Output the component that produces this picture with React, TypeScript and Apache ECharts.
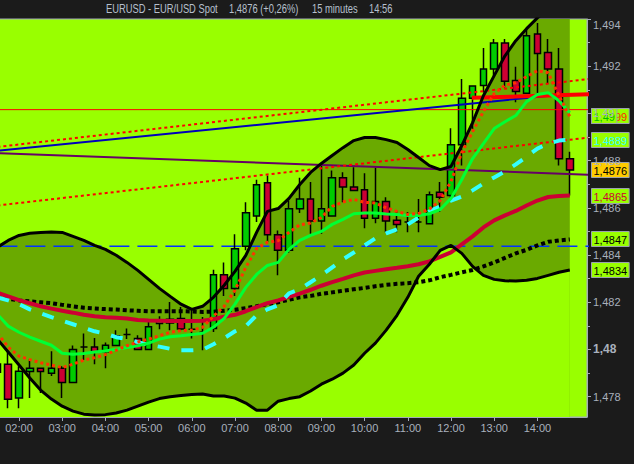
import React, { useEffect, useRef } from 'react';
import * as echarts from 'echarts';

// 15-minute slots (01:30 .. 14:45)
const times: string[] = [
  '01:30','01:45','02:00','02:15','02:30','02:45','03:00','03:15','03:30','03:45',
  '04:00','04:15','04:30','04:45','05:00','05:15','05:30','05:45','06:00','06:15',
  '06:30','06:45','07:00','07:15','07:30','07:45','08:00','08:15','08:30','08:45',
  '09:00','09:15','09:30','09:45','10:00','10:15','10:30','10:45','11:00','11:15',
  '11:30','11:45','12:00','12:15','12:30','12:45','13:00','13:15','13:30','13:45',
  '14:00','14:15','14:30','14:45'
];

// [open, close, low, high]
const candles: number[][] = [
  [1.47904, 1.47938, 1.47870, 1.47975],
  [1.47937, 1.47789, 1.47751, 1.47990],
  [1.47795, 1.47908, 1.47751, 1.47929],
  [1.47907, 1.47920, 1.47795, 1.47958],
  [1.47920, 1.47907, 1.47816, 1.47920],
  [1.47899, 1.47920, 1.47888, 1.47993],
  [1.47920, 1.47860, 1.47795, 1.47929],
  [1.47860, 1.48000, 1.47860, 1.48017],
  [1.48011, 1.48011, 1.47955, 1.48068],
  [1.48011, 1.47990, 1.47937, 1.48049],
  [1.47990, 1.48018, 1.47920, 1.48030],
  [1.48017, 1.48058, 1.48017, 1.48082],
  [1.48063, 1.48063, 1.48044, 1.48089],
  [1.48047, 1.48000, 1.48000, 1.48060],
  [1.48000, 1.48096, 1.48000, 1.48117],
  [1.48110, 1.48124, 1.48086, 1.48141],
  [1.48112, 1.48128, 1.48082, 1.48201],
  [1.48131, 1.48087, 1.48082, 1.48180],
  [1.48086, 1.48086, 1.48047, 1.48173],
  [1.48073, 1.48073, 1.47997, 1.48138],
  [1.48089, 1.48317, 1.48074, 1.48338],
  [1.48317, 1.48258, 1.48227, 1.48368],
  [1.48258, 1.48427, 1.48227, 1.48488],
  [1.48437, 1.48579, 1.48420, 1.48624],
  [1.48565, 1.48698, 1.48540, 1.48719],
  [1.48706, 1.48486, 1.48455, 1.48737],
  [1.48486, 1.48420, 1.48314, 1.48504],
  [1.48420, 1.48596, 1.48410, 1.48631],
  [1.48596, 1.48638, 1.48578, 1.48727],
  [1.48638, 1.48544, 1.48490, 1.48709],
  [1.48544, 1.48596, 1.48490, 1.48786],
  [1.48565, 1.48727, 1.48565, 1.48758],
  [1.48727, 1.48688, 1.48624, 1.48751],
  [1.48688, 1.48674, 1.48674, 1.48772],
  [1.48677, 1.48556, 1.48514, 1.48747],
  [1.48556, 1.48627, 1.48535, 1.48770],
  [1.48627, 1.48544, 1.48497, 1.48645],
  [1.48547, 1.48529, 1.48497, 1.48589],
  [1.48540, 1.48540, 1.48497, 1.48582],
  [1.48540, 1.48540, 1.48497, 1.48638],
  [1.48533, 1.48655, 1.48533, 1.48669],
  [1.48666, 1.48645, 1.48582, 1.48709],
  [1.48652, 1.48867, 1.48631, 1.48937],
  [1.48867, 1.49064, 1.48779, 1.49146],
  [1.49064, 1.49116, 1.48934, 1.49117],
  [1.49118, 1.49188, 1.49089, 1.49277],
  [1.49188, 1.49298, 1.49160, 1.49315],
  [1.49298, 1.49136, 1.49110, 1.49315],
  [1.49139, 1.49093, 1.49047, 1.49198],
  [1.49085, 1.49329, 1.49085, 1.49357],
  [1.49336, 1.49254, 1.49082, 1.49383],
  [1.49258, 1.49188, 1.49125, 1.49315],
  [1.49188, 1.48808, 1.48779, 1.49277],
  [1.48808, 1.48760, 1.48652, 1.48838]
];

const upperBand: number[] = [
  1.48433, 1.48462, 1.48483, 1.48492, 1.48496, 1.48498, 1.48496, 1.48479, 1.48462, 1.48441,
  1.48424, 1.48399, 1.48369, 1.48335, 1.48297, 1.48259, 1.48225, 1.48192, 1.48170, 1.48183,
  1.48221, 1.48272, 1.48331, 1.48399, 1.48496, 1.48585, 1.48597, 1.48640, 1.48699, 1.48750,
  1.48788, 1.48822, 1.48855, 1.48885, 1.48898, 1.48898, 1.48889, 1.48877, 1.48847, 1.48813,
  1.48779, 1.48762, 1.48775, 1.48864, 1.48961, 1.49075, 1.49160, 1.49244, 1.49308, 1.49359,
  1.49405, 1.49443, 1.49469, 1.49490
];

const lowerBand: number[] = [
  1.48044, 1.47989, 1.47934, 1.47879, 1.47828, 1.47790, 1.47760, 1.47739, 1.47726, 1.47722,
  1.47724, 1.47731, 1.47743, 1.47760, 1.47777, 1.47792, 1.47800, 1.47805, 1.47809, 1.47811,
  1.47803, 1.47803, 1.47794, 1.47773, 1.47743, 1.47743, 1.47781, 1.47792, 1.47800, 1.47824,
  1.47853, 1.47874, 1.47900, 1.47934, 1.47984, 1.48027, 1.48082, 1.48145, 1.48221, 1.48310,
  1.48361, 1.48420, 1.48441, 1.48407, 1.48352, 1.48314, 1.48297, 1.48291, 1.48290, 1.48293,
  1.48301, 1.48314, 1.48327, 1.48337
];

const greenMA: number[] = [
  1.48149, 1.48099, 1.48073, 1.48052, 1.48035, 1.48018, 1.47984, 1.47980, 1.47983, 1.47989,
  1.47994, 1.48001, 1.48008, 1.48016, 1.48027, 1.48044, 1.48054, 1.48058, 1.48063, 1.48069,
  1.48094, 1.48132, 1.48192, 1.48263, 1.48318, 1.48356, 1.48369, 1.48424, 1.48462, 1.48483,
  1.48500, 1.48530, 1.48551, 1.48575, 1.48578, 1.48578, 1.48574, 1.48572, 1.48568, 1.48568,
  1.48575, 1.48593, 1.48640, 1.48720, 1.48809, 1.48872, 1.48936, 1.48965, 1.48991, 1.49050,
  1.49080, 1.49088, 1.49054, 1.49003
];

const crimsonMA: number[] = [
  1.48240, 1.48225, 1.48209, 1.48196, 1.48183, 1.48173, 1.48164, 1.48156, 1.48147, 1.48141,
  1.48137, 1.48134, 1.48131, 1.48125, 1.48123, 1.48122, 1.48121, 1.48121, 1.48121, 1.48122,
  1.48128, 1.48139, 1.48147, 1.48162, 1.48179, 1.48196, 1.48208, 1.48223, 1.48237, 1.48253,
  1.48270, 1.48285, 1.48299, 1.48314, 1.48326, 1.48333, 1.48340, 1.48346, 1.48353, 1.48361,
  1.48373, 1.48392, 1.48411, 1.48445, 1.48479, 1.48517, 1.48547, 1.48568, 1.48587, 1.48610,
  1.48631, 1.48646, 1.48650, 1.48652
];

const blackDottedMA: number[] = [
  1.48219, 1.48215, 1.48208, 1.48204, 1.48200, 1.48196, 1.48189, 1.48183, 1.48177, 1.48174,
  1.48171, 1.48169, 1.48166, 1.48164, 1.48162, 1.48162, 1.48162, 1.48162, 1.48161, 1.48159,
  1.48160, 1.48164, 1.48168, 1.48175, 1.48183, 1.48192, 1.48200, 1.48211, 1.48221, 1.48227,
  1.48236, 1.48242, 1.48249, 1.48255, 1.48261, 1.48268, 1.48274, 1.48278, 1.48281, 1.48285,
  1.48293, 1.48306, 1.48316, 1.48327, 1.48337, 1.48352, 1.48369, 1.48388, 1.48407, 1.48422,
  1.48441, 1.48456, 1.48462, 1.48466
];

const cyanMA: number[] = [
  1.48221, 1.48208, 1.48192, 1.48170, 1.48153, 1.48137, 1.48122, 1.48107, 1.48092, 1.48077,
  1.48067, 1.48052, 1.48044, 1.48031, 1.48020, 1.48012, 1.48003, 1.47997, 1.47997, 1.47999,
  1.48022, 1.48048, 1.48077, 1.48099, 1.48145, 1.48170, 1.48187, 1.48238, 1.48255, 1.48285,
  1.48314, 1.48348, 1.48382, 1.48411, 1.48441, 1.48471, 1.48492, 1.48509, 1.48530, 1.48559,
  1.48585, 1.48606, 1.48631, 1.48648, 1.48674, 1.48703, 1.48729, 1.48754, 1.48784, 1.48817,
  1.48851, 1.48872, 1.48885, 1.48889
];

const orangeDottedMA: number[] = [
  1.48069, 1.48010, 1.47972, 1.47957, 1.47944, 1.47934, 1.47923, 1.47938, 1.47955, 1.47965,
  1.47978, 1.47997, 1.48016, 1.48031, 1.48044, 1.48058, 1.48073, 1.48080, 1.48082, 1.48094,
  1.48141, 1.48183, 1.48251, 1.48348, 1.48428, 1.48454, 1.48461, 1.48496, 1.48528, 1.48536,
  1.48559, 1.48606, 1.48625, 1.48636, 1.48623, 1.48621, 1.48600, 1.48585, 1.48572, 1.48576,
  1.48595, 1.48631, 1.48712, 1.48834, 1.48923, 1.49008, 1.49084, 1.49120, 1.49130, 1.49156,
  1.49181, 1.49172, 1.49075, 1.48987
];

// Trend lines: [time, value] end points
const channelUpper: [string, number][] = [['01:30', 1.48858], ['15:15', 1.49147]];
const channelLower: [string, number][] = [['01:30', 1.48610], ['15:15', 1.48899]];
const blueTrend: [string, number][] = [['01:30', 1.48842], ['14:17', 1.49075]];
const purpleTrend: [string, number][] = [['01:30', 1.48832], ['15:15', 1.48740]];
const thickRedTrend: [string, number][] = [['12:29', 1.49066], ['15:15', 1.49082]];
const redLevel: [string, number][] = [['01:30', 1.49016], ['15:15', 1.49016]];
const blueLevel: [string, number][] = [['01:30', 1.48437], ['15:15', 1.48437]];

const hourLabels: string[] = ['02:00','03:00','04:00','05:00','06:00','07:00','08:00','09:00','10:00','11:00','12:00','13:00','14:00'];
const priceTicks: number[] = [1.478, 1.480, 1.482, 1.484, 1.486, 1.488, 1.490, 1.492, 1.494];
const priceMinorTicks: number[] = [1.479, 1.481, 1.483, 1.485, 1.487, 1.489, 1.491, 1.493];

const toMin = (s: string) => { const p = s.split(':'); return Number(p[0]) * 60 + Number(p[1]); };
const slotX = times.map(toMin);
const pair = (arr: number[]) => arr.map((v, i) => [slotX[i], v]);
const seg = (pts: [string, number][]) => pts.map(p => [toMin(p[0]), p[1]]);
const fmtTime = (m: number) => {
  const h = Math.floor(m / 60); const mm = Math.round(m - h * 60);
  return (h < 10 ? '0' : '') + h + ':' + (mm < 10 ? '0' : '') + mm;
};
const fmtPrice = (v: number) => String(Number(v.toFixed(4))).replace('.', ',');

const GRID_BG = '#99ff00';
const BAND_FILL = '#6aaa00';
const AXIS_GREY = '#a3abb7';
const FONT = '"Liberation Sans", Arial, sans-serif';

function lineSeries(data: any[], color: string, width: number, type: any, z: number) {
  return {
    type: 'line', data, symbol: 'none', silent: true, z,
    lineStyle: { color, width, type, cap: 'butt' },
  };
}

export default function App() {
  const ref = useRef<HTMLDivElement>(null);
  useEffect(() => {
    const chart = echarts.init(ref.current!, null, { renderer: 'svg' });
    const option: any = {
      animation: false,
      backgroundColor: '#1b1b1b',
      grid: {
        left: -1, right: 47, top: 19, bottom: 47, show: true,
        backgroundColor: GRID_BG, borderColor: AXIS_GREY, borderWidth: 1,
        containLabel: false, outerBoundsMode: 'none',
      },
      xAxis: {
        type: 'value', min: 92.22, max: 908.9, position: 'bottom',
        axisLine: { show: true, lineStyle: { color: AXIS_GREY } },
        axisTick: { show: true, length: 4, customValues: hourLabels.map(toMin), lineStyle: { color: AXIS_GREY } },
        axisLabel: {
          show: true, customValues: hourLabels.map(toMin), color: '#a9b1bd', fontSize: 11,
          fontFamily: FONT, margin: 5, formatter: (v: number) => fmtTime(v),
        },
        splitLine: { show: false },
      },
      yAxis: [
        {
          type: 'value', min: 1.47714, max: 1.494, position: 'right',
          axisLine: { show: true, lineStyle: { color: AXIS_GREY } },
          axisTick: { show: true, length: 4, customValues: priceTicks, lineStyle: { color: AXIS_GREY } },
          axisLabel: {
            show: true, customValues: priceTicks, color: '#a9b1bd', fontSize: 11, fontFamily: FONT, margin: 6,
            formatter: (v: number) => {
              const s = String(Number(v.toFixed(3))).replace('.', ',');
              if (Math.abs(v - 1.48) < 1e-9) return '{b|' + s + '}';
              if (Math.abs(v - 1.494) < 1e-9) return '{t|' + s + '}';
              return s;
            },
            rich: {
              b: { fontWeight: 'bold', fontSize: 12, color: '#a9b1bd', fontFamily: FONT },
              t: { padding: [12, 0, 0, 0], fontSize: 11, color: '#a9b1bd', fontFamily: FONT },
            },
          },
          splitLine: { show: false },
        },
        {
          type: 'value', min: 1.47714, max: 1.494, position: 'right',
          axisLine: { show: false },
          axisTick: { show: true, length: 3, customValues: priceMinorTicks, lineStyle: { color: AXIS_GREY } },
          axisLabel: { show: false },
          splitLine: { show: false },
        },
      ],
      series: [
        {
          type: 'line', data: pair(upperBand), symbol: 'none', silent: true, z: 1,
          lineStyle: { width: 0, opacity: 0 }, areaStyle: { color: BAND_FILL, opacity: 1, origin: 'start' },
        },
        {
          type: 'line', data: pair(lowerBand), symbol: 'none', silent: true, z: 1,
          lineStyle: { width: 0, opacity: 0 }, areaStyle: { color: GRID_BG, opacity: 1, origin: 'start' },
        },
        lineSeries(seg(blueLevel), '#0033ff', 1.5, [20, 8], 2),
        {
          type: 'candlestick', z: 3, silent: true, barWidth: 7,
          data: candles.map((c, i) => [slotX[i], c[0], c[1], c[2], c[3]]),
          itemStyle: { color: '#00cc00', color0: '#cc0033', borderColor: '#000', borderColor0: '#000', borderWidth: 1.5 },
        },
        lineSeries(seg(redLevel), '#ff0000', 1, 'solid', 4),
        lineSeries(seg(purpleTrend), '#660066', 2, 'solid', 4),
        lineSeries(seg(blueTrend), '#0000bb', 2, 'solid', 4),
        lineSeries(seg(thickRedTrend), '#ff0000', 4, 'solid', 4),
        lineSeries(seg(channelUpper), '#ff0000', 2, [3, 3], 4),
        lineSeries(seg(channelLower), '#ff0000', 2, [3, 3], 4),
        lineSeries(pair(blackDottedMA), '#000000', 4, [4, 3], 5),
        lineSeries(pair(crimsonMA), '#cc0033', 4, 'solid', 5),
        lineSeries(pair(cyanMA), '#33ffff', 4, [12, 12], 5),
        lineSeries(pair(greenMA), '#00ff33', 3, 'solid', 5),
        lineSeries(pair(upperBand), '#000000', 3, 'solid', 5),
        lineSeries(pair(lowerBand), '#000000', 3, 'solid', 5),
        lineSeries(pair(orangeDottedMA), '#ff3300', 3, [3, 3], 6),
      ],
    };
    chart.setOption(option);

    const last = candles.length - 1;
    const labelDefs = [
      { value: orangeDottedMA[last], color: '#ff2a00', bg: GRID_BG },
      { value: greenMA[last], color: '#00c000', bg: GRID_BG },
      { value: cyanMA[last], color: '#33ffff', bg: GRID_BG },
      { value: candles[last][1], color: '#000000', bg: '#ffcc00' },
      { value: crimsonMA[last], color: '#cc0033', bg: GRID_BG },
      { value: blackDottedMA[last], color: '#000000', bg: GRID_BG },
      { value: lowerBand[last], color: '#000000', bg: GRID_BG },
    ];
    const placed: number[] = [];
    const boxes: any[] = [];
    labelDefs.forEach((d) => {
      let y = chart.convertToPixel({ yAxisIndex: 0 }, d.value) as number;
      for (const p of placed) { if (Math.abs(p - y) < 6) { y = p; } }
      placed.push(y);
      const text = fmtPrice(d.value);
      const digits = text.replace(',', '').length;
      const w = digits * 6.12 + (text.indexOf(',') >= 0 ? 3.06 : 0) + 4;
      boxes.push({
        type: 'group', x: 591, y: Math.round(y) - 8, silent: true, z: 100,
        children: [
          { type: 'rect', shape: { x: 0.5, y: 0.5, width: w, height: 15 }, style: { fill: d.bg, stroke: '#9aa2ae', lineWidth: 1 } },
          { type: 'text', x: 2.5, y: 8.5, style: { text, fill: d.color, font: '11px ' + FONT, verticalAlign: 'middle', align: 'left' } },
        ],
      });
    });

    const titleColor = '#b6c0ce';
    const titleFont = '12px ' + FONT;
    const titles = [
      { text: 'EURUSD - EUR/USD Spot', x: 106 },
      { text: '1,4876 (+0,26%)', x: 229 },
      { text: '15 minutes', x: 312 },
      { text: '14:56', x: 369 },
    ].map(t => ({
      type: 'text', x: t.x, y: 9, scaleX: 0.78, silent: true, z: 100,
      style: { text: t.text, fill: titleColor, font: titleFont, verticalAlign: 'middle', align: 'left' },
    }));

    chart.setOption({ graphic: [...titles, ...boxes] });
    return () => chart.dispose();
  }, []);
  return <div ref={ref} style={{ position: 'fixed', left: 0, top: 0, width: 634, height: 464, background: '#1b1b1b' }} />;
}
